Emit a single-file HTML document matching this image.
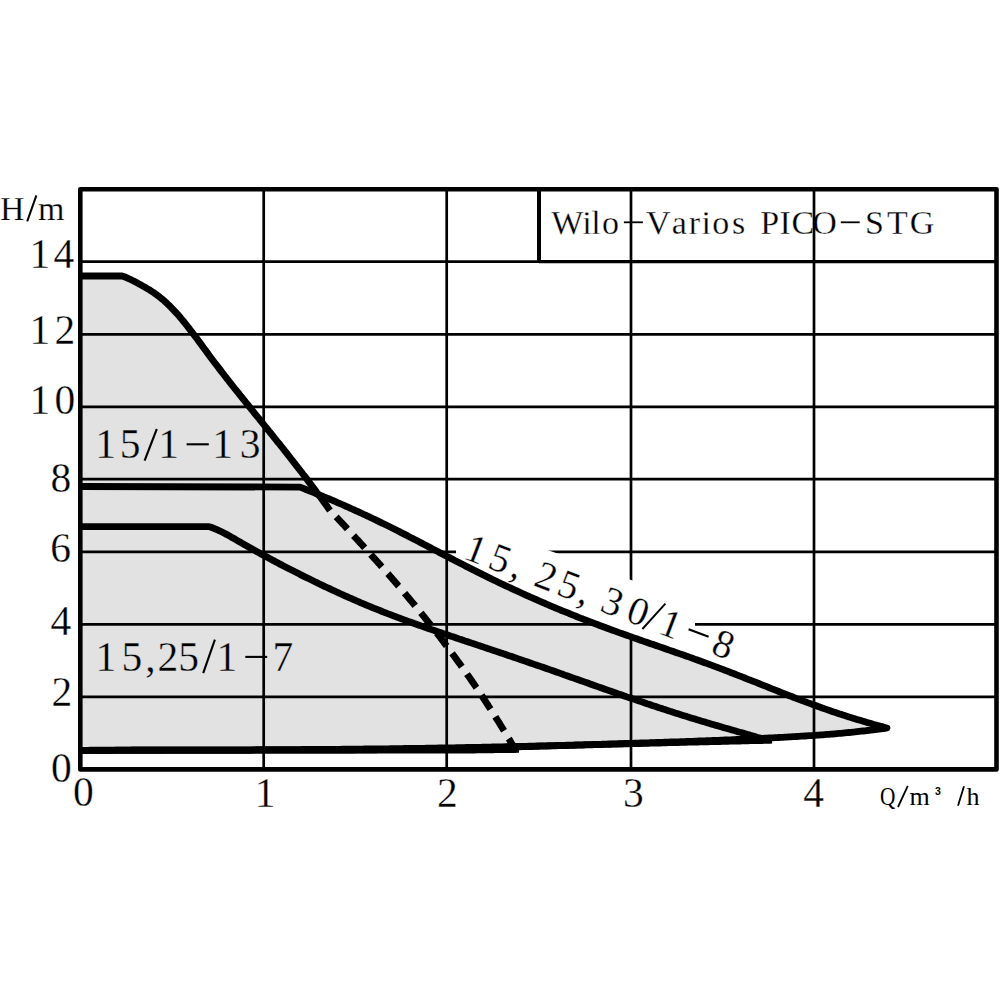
<!DOCTYPE html>
<html><head><meta charset="utf-8"><style>
html,body{margin:0;padding:0;background:#fff;width:1000px;height:1000px;overflow:hidden}
svg{display:block}
</style></head><body>
<svg width="1000" height="1000" viewBox="0 0 1000 1000">
<rect width="1000" height="1000" fill="#fff"/>
<path d="M82.0 276.0 L122.0 275.9 L123.5 276.4 L125.0 277.0 L126.5 277.6 L128.0 278.3 L129.5 279.0 L131.0 279.7 L132.6 280.5 L134.1 281.2 L135.6 282.0 L137.1 282.8 L138.6 283.7 L140.1 284.5 L141.6 285.3 L143.1 286.2 L144.6 287.0 L146.1 287.9 L147.6 288.8 L149.1 289.7 L150.6 290.7 L152.1 291.6 L153.7 292.6 L155.2 293.7 L156.7 294.8 L158.2 295.9 L159.7 297.1 L161.2 298.3 L162.7 299.5 L164.2 300.8 L165.7 302.2 L167.2 303.6 L168.7 305.1 L170.2 306.5 L171.7 308.1 L173.2 309.6 L174.8 311.3 L176.3 312.9 L177.8 314.6 L179.3 316.3 L180.8 318.1 L182.3 319.9 L183.8 321.7 L185.3 323.6 L186.8 325.5 L188.3 327.4 L189.8 329.4 L191.3 331.3 L192.8 333.3 L194.3 335.3 L195.9 337.3 L197.4 339.3 L198.9 341.4 L200.4 343.4 L201.9 345.4 L203.4 347.5 L204.9 349.5 L206.4 351.6 L207.9 353.6 L209.4 355.7 L210.9 357.7 L212.4 359.7 L213.9 361.7 L215.4 363.7 L217.0 365.7 L218.5 367.6 L220.0 369.6 L221.5 371.6 L223.0 373.5 L224.5 375.5 L226.0 377.4 L227.5 379.3 L229.0 381.3 L230.5 383.2 L232.0 385.1 L233.5 387.0 L235.0 388.9 L236.6 390.8 L238.1 392.7 L239.6 394.6 L241.1 396.5 L242.6 398.3 L244.1 400.2 L245.6 402.1 L247.1 404.0 L248.6 405.8 L250.1 407.7 L251.6 409.6 L253.1 411.4 L254.6 413.3 L256.1 415.2 L257.7 417.0 L259.2 418.9 L260.7 420.8 L262.2 422.6 L263.7 424.5 L265.2 426.4 L266.7 428.2 L268.2 430.1 L269.7 432.0 L271.2 433.8 L272.7 435.7 L274.2 437.6 L275.7 439.5 L277.2 441.4 L278.8 443.2 L280.3 445.1 L281.8 447.0 L283.3 448.9 L284.8 450.8 L286.3 452.7 L287.8 454.6 L289.3 456.5 L290.8 458.5 L292.3 460.4 L293.8 462.3 L295.3 464.2 L296.8 466.2 L298.3 468.1 L299.9 470.1 L301.4 472.0 L302.9 474.0 L304.4 475.9 L305.9 477.9 L307.4 479.9 L308.9 481.9 L310.4 483.9 L312.0 491.9 L314.0 492.7 L316.0 493.5 L318.0 494.3 L320.0 495.1 L322.0 496.0 L324.0 496.8 L326.0 497.6 L328.0 498.5 L330.1 499.3 L332.1 500.2 L334.1 501.0 L336.1 501.9 L338.1 502.8 L340.1 503.6 L342.1 504.5 L344.1 505.4 L346.1 506.3 L348.1 507.2 L350.1 508.1 L352.1 509.0 L354.1 509.9 L356.1 510.8 L358.1 511.7 L360.1 512.6 L362.1 513.5 L364.1 514.5 L366.1 515.4 L368.1 516.3 L370.1 517.3 L372.1 518.2 L374.1 519.2 L376.1 520.1 L378.1 521.1 L380.1 522.1 L382.1 523.1 L384.1 524.0 L386.1 525.0 L388.2 526.0 L390.2 527.0 L392.2 528.0 L394.2 529.0 L396.2 530.0 L398.2 531.0 L400.2 532.1 L402.2 533.1 L404.2 534.1 L406.2 535.1 L408.2 536.2 L410.2 537.2 L412.2 538.2 L414.2 539.3 L416.2 540.3 L418.2 541.3 L420.2 542.4 L422.2 543.4 L424.2 544.5 L426.2 545.5 L428.2 546.6 L430.2 547.6 L432.2 548.7 L434.2 549.7 L436.2 550.8 L438.2 551.8 L440.2 552.9 L442.2 553.9 L444.2 554.9 L446.2 556.0 L448.3 557.0 L450.3 558.1 L452.3 559.1 L454.3 560.2 L456.3 561.2 L458.3 562.2 L460.3 563.3 L462.3 564.3 L464.3 565.3 L466.3 566.4 L468.3 567.4 L470.3 568.4 L472.3 569.4 L474.3 570.4 L476.3 571.4 L478.3 572.4 L480.3 573.4 L482.3 574.4 L484.3 575.4 L486.3 576.4 L488.3 577.4 L490.3 578.4 L492.3 579.4 L494.3 580.3 L496.3 581.3 L498.3 582.3 L500.3 583.2 L502.3 584.2 L504.3 585.1 L506.4 586.1 L508.4 587.0 L510.4 587.9 L512.4 588.9 L514.4 589.8 L516.4 590.7 L518.4 591.6 L520.4 592.5 L522.4 593.5 L524.4 594.4 L526.4 595.3 L528.4 596.2 L530.4 597.1 L532.4 597.9 L534.4 598.8 L536.4 599.7 L538.4 600.6 L540.4 601.5 L542.4 602.3 L544.4 603.2 L546.4 604.1 L548.4 604.9 L550.4 605.8 L552.4 606.6 L554.4 607.5 L556.4 608.3 L558.4 609.1 L560.4 610.0 L562.4 610.8 L564.5 611.6 L566.5 612.4 L568.5 613.2 L570.5 614.1 L572.5 614.9 L574.5 615.7 L576.5 616.5 L578.5 617.3 L580.5 618.1 L582.5 618.8 L584.5 619.6 L586.5 620.4 L588.5 621.2 L590.5 622.0 L592.5 622.7 L594.5 623.5 L596.5 624.2 L598.5 625.0 L600.5 625.8 L602.5 626.5 L604.5 627.2 L606.5 628.0 L608.5 628.7 L610.5 629.5 L612.5 630.2 L614.5 630.9 L616.5 631.6 L618.5 632.4 L620.5 633.1 L622.5 633.8 L624.6 634.5 L626.6 635.2 L628.6 635.9 L630.6 636.6 L632.6 637.4 L634.6 638.1 L636.6 638.8 L638.6 639.5 L640.6 640.2 L642.6 640.9 L644.6 641.6 L646.6 642.3 L648.6 643.0 L650.6 643.7 L652.6 644.3 L654.6 645.0 L656.6 645.7 L658.6 646.4 L660.6 647.1 L662.6 647.8 L664.6 648.5 L666.6 649.2 L668.6 649.9 L670.6 650.6 L672.6 651.3 L674.6 652.0 L676.6 652.7 L678.6 653.4 L680.6 654.1 L682.7 654.8 L684.7 655.5 L686.7 656.2 L688.7 656.9 L690.7 657.6 L692.7 658.3 L694.7 659.1 L696.7 659.8 L698.7 660.5 L700.7 661.2 L702.7 662.0 L704.7 662.7 L706.7 663.4 L708.7 664.1 L710.7 664.9 L712.7 665.6 L714.7 666.4 L716.7 667.1 L718.7 667.9 L720.7 668.6 L722.7 669.4 L724.7 670.2 L726.7 670.9 L728.7 671.7 L730.7 672.5 L732.7 673.2 L734.7 674.0 L736.7 674.8 L738.7 675.6 L740.8 676.4 L742.8 677.2 L744.8 678.0 L746.8 678.8 L748.8 679.6 L750.8 680.3 L752.8 681.1 L754.8 681.9 L756.8 682.7 L758.8 683.5 L760.8 684.3 L762.8 685.1 L764.8 685.9 L766.8 686.7 L768.8 687.5 L770.8 688.3 L772.8 689.1 L774.8 689.9 L776.8 690.7 L778.8 691.5 L780.8 692.3 L782.8 693.1 L784.8 693.9 L786.8 694.7 L788.8 695.5 L790.8 696.2 L792.8 697.0 L794.8 697.8 L796.8 698.6 L798.8 699.3 L800.9 700.1 L802.9 700.9 L804.9 701.6 L806.9 702.4 L808.9 703.1 L810.9 703.8 L812.9 704.6 L814.9 705.3 L816.9 706.0 L818.9 706.8 L820.9 707.5 L822.9 708.2 L824.9 708.9 L826.9 709.6 L828.9 710.3 L830.9 711.0 L832.9 711.7 L834.9 712.3 L836.9 713.0 L838.9 713.7 L840.9 714.3 L842.9 715.0 L844.9 715.6 L846.9 716.3 L848.9 716.9 L850.9 717.6 L852.9 718.2 L854.9 718.8 L856.9 719.4 L859.0 720.0 L861.0 720.6 L863.0 721.2 L865.0 721.8 L867.0 722.4 L869.0 723.0 L871.0 723.6 L873.0 724.2 L875.0 724.7 L877.0 725.3 L879.0 725.8 L881.0 726.4 L883.0 726.9 L885.0 727.5 L887.0 728.0 L887.0 728.2 L885.0 728.4 L883.0 728.7 L881.0 728.9 L879.0 729.1 L877.0 729.4 L875.0 729.6 L873.0 729.8 L871.0 730.1 L869.0 730.3 L867.0 730.5 L865.0 730.8 L863.0 731.0 L861.0 731.2 L859.0 731.4 L857.0 731.6 L855.0 731.9 L853.0 732.1 L851.0 732.3 L849.0 732.5 L847.0 732.7 L844.9 732.9 L842.9 733.1 L840.9 733.3 L838.9 733.4 L836.9 733.6 L834.9 733.8 L832.9 734.0 L830.9 734.1 L828.9 734.3 L826.9 734.4 L824.9 734.6 L822.9 734.8 L820.9 734.9 L818.9 735.1 L816.9 735.2 L814.9 735.3 L812.9 735.5 L810.9 735.6 L808.9 735.7 L806.9 735.9 L804.9 736.0 L802.9 736.1 L800.9 736.2 L798.9 736.4 L796.9 736.5 L794.9 736.6 L792.9 736.7 L790.9 736.8 L788.9 736.9 L786.9 737.1 L784.9 737.2 L782.9 737.3 L780.9 737.4 L778.9 737.5 L776.9 737.6 L774.9 737.7 L772.9 737.8 L770.9 737.9 L768.9 738.0 L766.9 738.1 L764.8 738.2 L762.8 738.3 L760.8 738.4 L758.8 738.5 L756.8 738.6 L754.8 738.7 L752.8 738.8 L750.8 738.9 L748.8 739.0 L746.8 739.1 L744.8 739.1 L742.8 739.2 L740.8 739.3 L738.8 739.4 L736.8 739.5 L734.8 739.6 L732.8 739.7 L730.8 739.8 L728.8 739.8 L726.8 739.9 L724.8 740.0 L722.8 740.1 L720.8 740.2 L718.8 740.3 L716.8 740.3 L714.8 740.4 L712.8 740.5 L710.8 740.6 L708.8 740.7 L706.8 740.7 L704.8 740.8 L702.8 740.9 L700.8 741.0 L698.8 741.0 L696.8 741.1 L694.8 741.2 L692.8 741.3 L690.8 741.3 L688.8 741.4 L686.8 741.5 L684.7 741.6 L682.7 741.6 L680.7 741.7 L678.7 741.8 L676.7 741.8 L674.7 741.9 L672.7 742.0 L670.7 742.0 L668.7 742.1 L666.7 742.2 L664.7 742.2 L662.7 742.3 L660.7 742.4 L658.7 742.4 L656.7 742.5 L654.7 742.6 L652.7 742.6 L650.7 742.7 L648.7 742.8 L646.7 742.8 L644.7 742.9 L642.7 743.0 L640.7 743.0 L638.7 743.1 L636.7 743.2 L634.7 743.2 L632.7 743.3 L630.7 743.4 L628.7 743.4 L626.7 743.5 L624.7 743.5 L622.7 743.6 L620.7 743.7 L618.7 743.7 L616.7 743.8 L614.7 743.9 L612.7 743.9 L610.7 744.0 L608.7 744.0 L606.7 744.1 L604.6 744.2 L602.6 744.2 L600.6 744.3 L598.6 744.3 L596.6 744.4 L594.6 744.4 L592.6 744.5 L590.6 744.6 L588.6 744.6 L586.6 744.7 L584.6 744.7 L582.6 744.8 L580.6 744.8 L578.6 744.9 L576.6 745.0 L574.6 745.0 L572.6 745.1 L570.6 745.1 L568.6 745.2 L566.6 745.2 L564.6 745.3 L562.6 745.3 L560.6 745.4 L558.6 745.4 L556.6 745.5 L554.6 745.6 L552.6 745.6 L550.6 745.7 L548.6 745.7 L546.6 745.8 L544.6 745.8 L542.6 745.9 L540.6 745.9 L538.6 746.0 L536.6 746.0 L534.6 746.1 L532.6 746.1 L530.6 746.2 L528.6 746.2 L526.6 746.3 L524.5 746.3 L522.5 746.3 L520.5 746.4 L518.5 746.4 L516.5 746.5 L514.5 746.5 L512.5 746.6 L510.5 746.6 L508.5 746.7 L506.5 746.7 L504.5 746.8 L502.5 746.8 L500.5 746.8 L498.5 746.9 L496.5 746.9 L494.5 747.0 L492.5 747.0 L490.5 747.1 L488.5 747.1 L486.5 747.1 L484.5 747.2 L482.5 747.2 L480.5 747.3 L478.5 747.3 L476.5 747.3 L474.5 747.4 L472.5 747.4 L470.5 747.5 L468.5 747.5 L466.5 747.5 L464.5 747.6 L462.5 747.6 L460.5 747.6 L458.5 747.7 L456.5 747.7 L454.5 747.8 L452.5 747.8 L450.5 747.8 L448.5 747.9 L446.5 747.9 L444.5 747.9 L442.4 748.0 L440.4 748.0 L438.4 748.0 L436.4 748.1 L434.4 748.1 L432.4 748.1 L430.4 748.2 L428.4 748.2 L426.4 748.2 L424.4 748.3 L422.4 748.3 L420.4 748.3 L418.4 748.3 L416.4 748.4 L414.4 748.4 L412.4 748.4 L410.4 748.5 L408.4 748.5 L406.4 748.5 L404.4 748.5 L402.4 748.6 L400.4 748.6 L398.4 748.6 L396.4 748.7 L394.4 748.7 L392.4 748.7 L390.4 748.7 L388.4 748.8 L386.4 748.8 L384.4 748.8 L382.4 748.8 L380.4 748.9 L378.4 748.9 L376.4 748.9 L374.4 748.9 L372.4 748.9 L370.4 749.0 L368.4 749.0 L366.4 749.0 L364.4 749.0 L362.3 749.1 L360.3 749.1 L358.3 749.1 L356.3 749.1 L354.3 749.1 L352.3 749.2 L350.3 749.2 L348.3 749.2 L346.3 749.2 L344.3 749.2 L342.3 749.2 L340.3 749.3 L338.3 749.3 L336.3 749.3 L334.3 749.3 L332.3 749.3 L330.3 749.3 L328.3 749.4 L326.3 749.4 L324.3 749.4 L322.3 749.4 L320.3 749.4 L318.3 749.4 L316.3 749.5 L314.3 749.5 L312.3 749.5 L310.3 749.5 L308.3 749.5 L306.3 749.5 L304.3 749.5 L302.3 749.5 L300.3 749.6 L298.3 749.6 L296.3 749.6 L294.3 749.6 L292.3 749.6 L290.3 749.6 L288.3 749.6 L286.3 749.6 L284.3 749.6 L282.2 749.6 L280.2 749.7 L278.2 749.7 L276.2 749.7 L274.2 749.7 L272.2 749.7 L270.2 749.7 L268.2 749.7 L266.2 749.7 L264.2 749.7 L262.2 749.7 L260.2 749.7 L258.2 749.7 L256.2 749.7 L254.2 749.8 L252.2 749.8 L250.2 749.8 L248.2 749.8 L246.2 749.8 L244.2 749.8 L242.2 749.8 L240.2 749.8 L238.2 749.8 L236.2 749.8 L234.2 749.8 L232.2 749.8 L230.2 749.8 L228.2 749.8 L226.2 749.8 L224.2 749.8 L222.2 749.8 L220.2 749.8 L218.2 749.8 L216.2 749.8 L214.2 749.9 L212.2 749.9 L210.2 749.9 L208.2 749.9 L206.2 749.9 L204.2 749.9 L202.1 749.9 L200.1 749.9 L198.1 749.9 L196.1 749.9 L194.1 749.9 L192.1 749.9 L190.1 749.9 L188.1 749.9 L186.1 749.9 L184.1 749.9 L182.1 749.9 L180.1 749.9 L178.1 749.9 L176.1 749.9 L174.1 749.9 L172.1 749.9 L170.1 749.9 L168.1 749.9 L166.1 749.9 L164.1 750.0 L162.1 750.0 L160.1 750.0 L158.1 750.0 L156.1 750.0 L154.1 750.0 L152.1 750.0 L150.1 750.0 L148.1 750.0 L146.1 750.0 L144.1 750.0 L142.1 750.0 L140.1 750.0 L138.1 750.0 L136.1 750.0 L134.1 750.0 L132.1 750.0 L130.1 750.1 L128.1 750.1 L126.1 750.1 L124.1 750.1 L122.0 750.1 L120.0 750.1 L118.0 750.1 L116.0 750.1 L114.0 750.1 L112.0 750.1 L110.0 750.1 L108.0 750.1 L106.0 750.2 L104.0 750.2 L102.0 750.2 L100.0 750.2 L98.0 750.2 L96.0 750.2 L94.0 750.2 L92.0 750.2 L90.0 750.2 L88.0 750.3 L86.0 750.3 L84.0 750.3 L82.0 750.3 Z" fill="#e2e2e2"/>
<text x="29.45 53.44" y="267.7" font-family="Liberation Serif" font-size="41.50" stroke="#fff" stroke-width="0.30" >14</text>
<text x="29.45 54.46" y="343.8" font-family="Liberation Serif" font-size="41.50" stroke="#fff" stroke-width="0.30" >12</text>
<text x="29.45 54.53" y="414.2" font-family="Liberation Serif" font-size="41.50" stroke="#fff" stroke-width="0.30" >10</text>
<text x="50.62" y="491.6" font-family="Liberation Serif" font-size="41.50" stroke="#fff" stroke-width="0.30" >8</text>
<text x="50.23" y="562.3" font-family="Liberation Serif" font-size="41.50" stroke="#fff" stroke-width="0.30" >6</text>
<text x="50.42" y="634.5" font-family="Liberation Serif" font-size="41.50" stroke="#fff" stroke-width="0.30" >4</text>
<text x="51.48" y="706.0" font-family="Liberation Serif" font-size="41.50" stroke="#fff" stroke-width="0.30" >2</text>
<text x="51.12" y="782.4" font-family="Liberation Serif" font-size="41.50" stroke="#fff" stroke-width="0.30" >0</text>
<text x="72.88" y="806.1" font-family="Liberation Serif" font-size="41.50" stroke="#fff" stroke-width="0.30" >0</text>
<text x="254.75" y="806.8" font-family="Liberation Serif" font-size="41.50" stroke="#fff" stroke-width="0.30" >1</text>
<text x="437.01" y="806.8" font-family="Liberation Serif" font-size="41.50" stroke="#fff" stroke-width="0.30" >2</text>
<text x="622.99" y="806.5" font-family="Liberation Serif" font-size="41.50" stroke="#fff" stroke-width="0.30" >3</text>
<text x="803.14" y="806.8" font-family="Liberation Serif" font-size="41.50" stroke="#fff" stroke-width="0.30" >4</text>
<text x="-0.02 37.94" y="220.1" font-family="Liberation Serif" font-size="34.00" stroke="#fff" stroke-width="0.25" >Hm</text>
<text x="909.57" y="805.1" font-family="Liberation Serif" font-size="26.00" >m</text>
<text transform="translate(887.85 805.1) scale(0.82 1)" x="-9.70" y="0" font-family="Liberation Serif" font-size="26">Q</text>
<text x="935.10" y="794.7" font-family="Liberation Sans" font-size="10.50" font-weight="bold">3</text>
<text x="966.59" y="805.1" font-family="Liberation Serif" font-size="26.00" >h</text>
<text x="551.22 582.29 591.13 601.95 646.02 671.69 688.75 701.54 712.20 732.00 760.19 779.52 791.40 812.27 864.91 887.09 909.81" y="233.7" font-family="Liberation Serif" font-size="34.00" stroke="#fff" stroke-width="0.30" >WiloVariosPICOSTG</text>
<text x="95.25 119.73 158.25 212.25 239.64" y="458.2" font-family="Liberation Serif" font-size="41.50" stroke="#e2e2e2" stroke-width="0.30" >15113</text>
<text x="95.50 121.58 145.23 157.46 178.23 216.55 272.45" y="670.7" font-family="Liberation Serif" font-size="41.50" stroke="#e2e2e2" stroke-width="0.30" >15,2517</text>
<line x1="623.90" y1="222.30" x2="642.90" y2="222.30" stroke="#000" stroke-width="1.80"/>
<line x1="840.80" y1="222.30" x2="859.70" y2="222.30" stroke="#000" stroke-width="1.80"/>
<line x1="186.60" y1="444.30" x2="208.80" y2="444.30" stroke="#000" stroke-width="2.10"/>
<line x1="245.30" y1="656.90" x2="267.20" y2="656.90" stroke="#000" stroke-width="2.10"/>
<line x1="144.60" y1="460.60" x2="156.80" y2="429.00" stroke="#000" stroke-width="2.10"/>
<line x1="203.20" y1="673.20" x2="214.90" y2="639.60" stroke="#000" stroke-width="2.10"/>
<line x1="27.20" y1="221.40" x2="36.40" y2="195.30" stroke="#000" stroke-width="2.00"/>
<line x1="898.00" y1="807.00" x2="907.80" y2="785.80" stroke="#000" stroke-width="1.80"/>
<line x1="958.00" y1="805.80" x2="964.00" y2="786.20" stroke="#000" stroke-width="1.80"/>
<line x1="263.7" y1="189.2" x2="263.7" y2="769.4" stroke="#000" stroke-width="2.7"/>
<line x1="446.7" y1="189.2" x2="446.7" y2="769.4" stroke="#000" stroke-width="2.7"/>
<line x1="631.0" y1="189.2" x2="631.0" y2="769.4" stroke="#000" stroke-width="2.7"/>
<line x1="814.0" y1="189.2" x2="814.0" y2="769.4" stroke="#000" stroke-width="2.7"/>
<line x1="80.3" y1="696.9" x2="996.5" y2="696.9" stroke="#000" stroke-width="2.7"/>
<line x1="80.3" y1="624.4" x2="996.5" y2="624.4" stroke="#000" stroke-width="2.7"/>
<line x1="80.3" y1="551.9" x2="996.5" y2="551.9" stroke="#000" stroke-width="2.7"/>
<line x1="80.3" y1="479.2" x2="996.5" y2="479.2" stroke="#000" stroke-width="2.7"/>
<line x1="80.3" y1="406.9" x2="996.5" y2="406.9" stroke="#000" stroke-width="2.7"/>
<line x1="80.3" y1="334.4" x2="996.5" y2="334.4" stroke="#000" stroke-width="2.7"/>
<line x1="80.3" y1="261.7" x2="996.5" y2="261.7" stroke="#000" stroke-width="2.7"/>
<line x1="539" y1="189.2" x2="539" y2="262.5" stroke="#000" stroke-width="4"/>
<line x1="539" y1="261.6" x2="996.5" y2="261.6" stroke="#000" stroke-width="3.2"/>
<rect x="80.3" y="189.2" width="916.2" height="580.2" fill="none" stroke="#000" stroke-width="4.6" stroke-linejoin="round"/>
<defs><clipPath id="abv"><path d="M300 190 L995 190 L995 728 L887.0 728.0 L885.0 727.5 L883.0 726.9 L881.0 726.4 L879.0 725.8 L877.0 725.3 L875.0 724.7 L873.0 724.2 L871.0 723.6 L869.0 723.0 L867.0 722.4 L865.0 721.8 L863.0 721.2 L861.0 720.6 L859.0 720.0 L856.9 719.4 L854.9 718.8 L852.9 718.2 L850.9 717.6 L848.9 716.9 L846.9 716.3 L844.9 715.6 L842.9 715.0 L840.9 714.3 L838.9 713.7 L836.9 713.0 L834.9 712.3 L832.9 711.7 L830.9 711.0 L828.9 710.3 L826.9 709.6 L824.9 708.9 L822.9 708.2 L820.9 707.5 L818.9 706.8 L816.9 706.0 L814.9 705.3 L812.9 704.6 L810.9 703.8 L808.9 703.1 L806.9 702.4 L804.9 701.6 L802.9 700.9 L800.9 700.1 L798.8 699.3 L796.8 698.6 L794.8 697.8 L792.8 697.0 L790.8 696.2 L788.8 695.5 L786.8 694.7 L784.8 693.9 L782.8 693.1 L780.8 692.3 L778.8 691.5 L776.8 690.7 L774.8 689.9 L772.8 689.1 L770.8 688.3 L768.8 687.5 L766.8 686.7 L764.8 685.9 L762.8 685.1 L760.8 684.3 L758.8 683.5 L756.8 682.7 L754.8 681.9 L752.8 681.1 L750.8 680.3 L748.8 679.6 L746.8 678.8 L744.8 678.0 L742.8 677.2 L740.8 676.4 L738.7 675.6 L736.7 674.8 L734.7 674.0 L732.7 673.2 L730.7 672.5 L728.7 671.7 L726.7 670.9 L724.7 670.2 L722.7 669.4 L720.7 668.6 L718.7 667.9 L716.7 667.1 L714.7 666.4 L712.7 665.6 L710.7 664.9 L708.7 664.1 L706.7 663.4 L704.7 662.7 L702.7 662.0 L700.7 661.2 L698.7 660.5 L696.7 659.8 L694.7 659.1 L692.7 658.3 L690.7 657.6 L688.7 656.9 L686.7 656.2 L684.7 655.5 L682.7 654.8 L680.6 654.1 L678.6 653.4 L676.6 652.7 L674.6 652.0 L672.6 651.3 L670.6 650.6 L668.6 649.9 L666.6 649.2 L664.6 648.5 L662.6 647.8 L660.6 647.1 L658.6 646.4 L656.6 645.7 L654.6 645.0 L652.6 644.3 L650.6 643.7 L648.6 643.0 L646.6 642.3 L644.6 641.6 L642.6 640.9 L640.6 640.2 L638.6 639.5 L636.6 638.8 L634.6 638.1 L632.6 637.4 L630.6 636.6 L628.6 635.9 L626.6 635.2 L624.6 634.5 L622.5 633.8 L620.5 633.1 L618.5 632.4 L616.5 631.6 L614.5 630.9 L612.5 630.2 L610.5 629.5 L608.5 628.7 L606.5 628.0 L604.5 627.2 L602.5 626.5 L600.5 625.8 L598.5 625.0 L596.5 624.2 L594.5 623.5 L592.5 622.7 L590.5 622.0 L588.5 621.2 L586.5 620.4 L584.5 619.6 L582.5 618.8 L580.5 618.1 L578.5 617.3 L576.5 616.5 L574.5 615.7 L572.5 614.9 L570.5 614.1 L568.5 613.2 L566.5 612.4 L564.5 611.6 L562.4 610.8 L560.4 610.0 L558.4 609.1 L556.4 608.3 L554.4 607.5 L552.4 606.6 L550.4 605.8 L548.4 604.9 L546.4 604.1 L544.4 603.2 L542.4 602.3 L540.4 601.5 L538.4 600.6 L536.4 599.7 L534.4 598.8 L532.4 597.9 L530.4 597.1 L528.4 596.2 L526.4 595.3 L524.4 594.4 L522.4 593.5 L520.4 592.5 L518.4 591.6 L516.4 590.7 L514.4 589.8 L512.4 588.9 L510.4 587.9 L508.4 587.0 L506.4 586.1 L504.3 585.1 L502.3 584.2 L500.3 583.2 L498.3 582.3 L496.3 581.3 L494.3 580.3 L492.3 579.4 L490.3 578.4 L488.3 577.4 L486.3 576.4 L484.3 575.4 L482.3 574.4 L480.3 573.4 L478.3 572.4 L476.3 571.4 L474.3 570.4 L472.3 569.4 L470.3 568.4 L468.3 567.4 L466.3 566.4 L464.3 565.3 L462.3 564.3 L460.3 563.3 L458.3 562.2 L456.3 561.2 L454.3 560.2 L452.3 559.1 L450.3 558.1 L448.3 557.0 L446.2 556.0 L444.2 554.9 L442.2 553.9 L440.2 552.9 L438.2 551.8 L436.2 550.8 L434.2 549.7 L432.2 548.7 L430.2 547.6 L428.2 546.6 L426.2 545.5 L424.2 544.5 L422.2 543.4 L420.2 542.4 L418.2 541.3 L416.2 540.3 L414.2 539.3 L412.2 538.2 L410.2 537.2 L408.2 536.2 L406.2 535.1 L404.2 534.1 L402.2 533.1 L400.2 532.1 L398.2 531.0 L396.2 530.0 L394.2 529.0 L392.2 528.0 L390.2 527.0 L388.2 526.0 L386.1 525.0 L384.1 524.0 L382.1 523.1 L380.1 522.1 L378.1 521.1 L376.1 520.1 L374.1 519.2 L372.1 518.2 L370.1 517.3 L368.1 516.3 L366.1 515.4 L364.1 514.5 L362.1 513.5 L360.1 512.6 L358.1 511.7 L356.1 510.8 L354.1 509.9 L352.1 509.0 L350.1 508.1 L348.1 507.2 L346.1 506.3 L344.1 505.4 L342.1 504.5 L340.1 503.6 L338.1 502.8 L336.1 501.9 L334.1 501.0 L332.1 500.2 L330.1 499.3 L328.0 498.5 L326.0 497.6 L324.0 496.8 L322.0 496.0 L320.0 495.1 L318.0 494.3 L316.0 493.5 L314.0 492.7 L312.0 491.9 L310.0 491.1 L308.0 490.3 L306.0 489.5 L304.0 488.7 L302.0 487.9 L300.0 487.1 Z"/></clipPath></defs>
<g clip-path="url(#abv)"><path d="M456 517.2 L695 603 L695 700 L456 700 Z" fill="#fff"/></g>
<g transform="translate(471.95 561.86) rotate(21.00)">
<text x="-10.56 15.32 39.50 64.52 89.02 111.80 135.62 163.10 197.94 254.50" y="0.0" font-family="Liberation Serif" font-size="40.00" stroke="#fff" stroke-width="0.30" >15,25,3018</text>
</g>
<line x1="688.60" y1="629.20" x2="708.60" y2="636.80" stroke="#000" stroke-width="2.10"/>
<line x1="642.40" y1="629.00" x2="665.40" y2="603.60" stroke="#000" stroke-width="1.90"/>
<path d="M82.0 750.4 L84.0 750.4 L86.0 750.4 L88.0 750.4 L90.0 750.4 L92.0 750.4 L94.0 750.4 L96.0 750.4 L98.0 750.4 L100.0 750.4 L102.0 750.4 L104.1 750.4 L106.1 750.4 L108.1 750.4 L110.1 750.4 L112.1 750.4 L114.1 750.4 L116.1 750.4 L118.1 750.4 L120.1 750.4 L122.1 750.4 L124.1 750.4 L126.1 750.4 L128.1 750.4 L130.1 750.4 L132.1 750.4 L134.1 750.4 L136.1 750.4 L138.1 750.4 L140.1 750.4 L142.1 750.4 L144.1 750.3 L146.1 750.3 L148.2 750.3 L150.2 750.3 L152.2 750.3 L154.2 750.3 L156.2 750.3 L158.2 750.3 L160.2 750.3 L162.2 750.3 L164.2 750.3 L166.2 750.3 L168.2 750.3 L170.2 750.3 L172.2 750.3 L174.2 750.3 L176.2 750.3 L178.2 750.3 L180.2 750.3 L182.2 750.3 L184.2 750.3 L186.2 750.3 L188.2 750.3 L190.2 750.3 L192.3 750.3 L194.3 750.3 L196.3 750.3 L198.3 750.3 L200.3 750.3 L202.3 750.3 L204.3 750.3 L206.3 750.3 L208.3 750.3 L210.3 750.3 L212.3 750.3 L214.3 750.3 L216.3 750.3 L218.3 750.3 L220.3 750.3 L222.3 750.3 L224.3 750.3 L226.3 750.3 L228.3 750.3 L230.3 750.3 L232.3 750.3 L234.3 750.3 L236.4 750.3 L238.4 750.3 L240.4 750.3 L242.4 750.3 L244.4 750.3 L246.4 750.3 L248.4 750.3 L250.4 750.3 L252.4 750.2 L254.4 750.2 L256.4 750.2 L258.4 750.2 L260.4 750.2 L262.4 750.2 L264.4 750.2 L266.4 750.2 L268.4 750.2 L270.4 750.2 L272.4 750.2 L274.4 750.2 L276.4 750.2 L278.4 750.2 L280.5 750.2 L282.5 750.2 L284.5 750.2 L286.5 750.2 L288.5 750.2 L290.5 750.2 L292.5 750.2 L294.5 750.2 L296.5 750.2 L298.5 750.2 L300.5 750.2 L302.5 750.2 L304.5 750.2 L306.5 750.2 L308.5 750.2 L310.5 750.2 L312.5 750.2 L314.5 750.2 L316.5 750.2 L318.5 750.2 L320.5 750.2 L322.6 750.2 L324.6 750.2 L326.6 750.2 L328.6 750.2 L330.6 750.2 L332.6 750.2 L334.6 750.2 L336.6 750.2 L338.6 750.2 L340.6 750.2 L342.6 750.2 L344.6 750.2 L346.6 750.2 L348.6 750.2 L350.6 750.2 L352.6 750.2 L354.6 750.2 L356.6 750.2 L358.6 750.2 L360.6 750.1 L362.6 750.1 L364.6 750.1 L366.7 750.1 L368.7 750.1 L370.7 750.1 L372.7 750.1 L374.7 750.1 L376.7 750.1 L378.7 750.1 L380.7 750.1 L382.7 750.1 L384.7 750.1 L386.7 750.1 L388.7 750.1 L390.7 750.1 L392.7 750.1 L394.7 750.1 L396.7 750.1 L398.7 750.1 L400.7 750.1 L402.7 750.1 L404.7 750.1 L406.7 750.1 L408.7 750.1 L410.8 750.1 L412.8 750.1 L414.8 750.1 L416.8 750.1 L418.8 750.1 L420.8 750.1 L422.8 750.1 L424.8 750.1 L426.8 750.1 L428.8 750.1 L430.8 750.1 L432.8 750.1 L434.8 750.1 L436.8 750.1 L438.8 750.1 L440.8 750.1 L442.8 750.1 L444.8 750.0 L446.8 750.0 L448.8 750.0 L450.8 750.0 L452.8 750.0 L454.9 750.0 L456.9 750.0 L458.9 750.0 L460.9 750.0 L462.9 750.0 L464.9 750.0 L466.9 750.0 L468.9 750.0 L470.9 750.0 L472.9 750.0 L474.9 750.0 L476.9 749.9 L478.9 749.9 L480.9 749.9 L482.9 749.9 L484.9 749.9 L486.9 749.8 L488.9 749.8 L490.9 749.8 L492.9 749.8 L494.9 749.7 L496.9 749.7 L499.0 749.7 L501.0 749.7 L503.0 749.6 L505.0 749.6 L507.0 749.6 L509.0 749.5 L511.0 749.5 L513.0 749.5 L515.0 749.5 L517.0 749.4 L519.0 749.4" fill="none" stroke="#000" stroke-width="6.8" stroke-linejoin="round"/>
<path d="M82.0 750.4 L84.0 750.4 L86.0 750.4 L88.0 750.4 L90.0 750.4 L92.0 750.4 L94.0 750.3 L96.0 750.3 L98.0 750.3 L100.0 750.3 L102.0 750.3 L104.0 750.3 L106.0 750.3 L108.0 750.3 L110.0 750.3 L112.0 750.3 L114.0 750.3 L116.0 750.2 L118.0 750.2 L120.0 750.2 L122.0 750.2 L124.0 750.2 L126.0 750.2 L128.0 750.2 L130.0 750.2 L132.0 750.2 L134.0 750.2 L136.0 750.2 L138.0 750.2 L140.0 750.2 L142.0 750.2 L144.0 750.2 L146.0 750.2 L148.0 750.2 L150.0 750.2 L152.0 750.2 L154.0 750.2 L156.0 750.2 L158.0 750.2 L160.0 750.2 L162.0 750.2 L164.0 750.2 L166.0 750.2 L168.0 750.2 L170.0 750.2 L172.0 750.2 L174.0 750.2 L176.0 750.2 L178.0 750.2 L180.0 750.2 L182.0 750.2 L184.0 750.2 L186.0 750.2 L188.0 750.2 L190.0 750.2 L192.0 750.2 L194.0 750.2 L196.0 750.2 L198.0 750.2 L200.0 750.2 L202.0 750.2 L204.0 750.2 L206.0 750.2 L208.0 750.2 L210.0 750.2 L212.0 750.2 L214.0 750.2 L216.0 750.2 L218.0 750.2 L220.0 750.2 L222.0 750.2 L224.0 750.2 L226.0 750.2 L228.0 750.2 L230.0 750.2 L232.0 750.2 L234.0 750.2 L236.0 750.2 L238.0 750.2 L240.0 750.2 L242.0 750.2 L244.0 750.2 L246.0 750.2 L248.0 750.2 L250.0 750.2 L252.0 750.2 L254.0 750.2 L256.0 750.2 L258.0 750.2 L260.0 750.2 L262.0 750.2 L264.0 750.2 L266.0 750.2 L268.0 750.2 L270.0 750.2 L272.0 750.2 L274.0 750.2 L276.0 750.2 L278.0 750.2 L280.0 750.2 L282.0 750.2 L284.0 750.2 L286.0 750.2 L288.0 750.2 L290.0 750.2 L292.0 750.2 L294.0 750.2 L296.0 750.2 L298.0 750.2 L300.0 750.2 L302.0 750.2 L304.0 750.2 L306.0 750.2 L308.0 750.2 L310.0 750.2 L312.0 750.2 L314.0 750.2 L316.0 750.2 L318.0 750.2 L320.0 750.2 L322.0 750.1 L324.0 750.1 L326.0 750.1 L328.0 750.1 L330.0 750.1 L332.0 750.1 L334.0 750.1 L336.0 750.1 L338.0 750.1 L340.0 750.1 L342.0 750.0 L344.0 750.0 L346.0 750.0 L348.0 750.0 L350.0 750.0 L352.0 750.0 L354.0 750.0 L356.0 749.9 L358.0 749.9 L360.0 749.9 L362.0 749.9 L364.0 749.9 L366.0 749.9 L368.0 749.8 L370.0 749.8 L372.0 749.8 L374.0 749.8 L376.0 749.8 L378.0 749.7 L380.0 749.7 L382.0 749.7 L384.0 749.7 L386.0 749.6 L388.0 749.6 L390.0 749.6 L392.0 749.6 L394.0 749.5 L396.0 749.5 L398.0 749.5 L400.0 749.5 L402.0 749.4 L404.0 749.4 L406.0 749.4 L408.0 749.3 L410.0 749.3 L412.0 749.3 L414.0 749.2 L416.0 749.2 L418.0 749.2 L420.0 749.1 L422.0 749.1 L424.0 749.1 L426.0 749.0 L428.0 749.0 L430.0 749.0 L432.0 748.9 L434.0 748.9 L436.0 748.8 L438.0 748.8 L440.0 748.8 L442.0 748.7 L444.0 748.7 L446.0 748.6 L448.0 748.6 L450.0 748.5 L452.0 748.5 L454.0 748.5 L456.0 748.4 L458.0 748.4 L460.0 748.3 L462.0 748.3 L464.0 748.2 L466.0 748.2 L468.0 748.1 L470.0 748.1 L472.0 748.0 L474.0 748.0 L476.0 747.9 L478.0 747.9 L480.0 747.8 L482.0 747.8 L484.0 747.7 L486.0 747.7 L488.0 747.6 L490.0 747.6 L492.0 747.5 L494.0 747.5 L496.0 747.4 L498.0 747.4 L500.0 747.3 L502.0 747.3 L504.0 747.2 L506.0 747.2 L508.0 747.1 L510.0 747.1 L512.0 747.0 L514.0 747.0 L516.0 746.9 L518.0 746.9 L520.0 746.8 L522.0 746.7 L524.0 746.7 L526.0 746.6 L528.0 746.6 L530.0 746.5 L532.0 746.5 L534.0 746.4 L536.0 746.4 L538.0 746.3 L540.0 746.2 L542.0 746.2 L544.0 746.1 L546.0 746.1 L548.0 746.0 L550.0 746.0 L552.0 745.9 L554.0 745.8 L556.0 745.8 L558.0 745.7 L560.0 745.7 L562.0 745.6 L564.0 745.6 L566.0 745.5 L568.0 745.5 L570.0 745.4 L572.0 745.3 L574.0 745.3 L576.0 745.2 L578.0 745.2 L580.0 745.1 L582.0 745.1 L584.0 745.0 L586.0 744.9 L588.0 744.9 L590.0 744.8 L592.0 744.8 L594.0 744.7 L596.0 744.7 L598.0 744.6 L600.0 744.6 L602.0 744.5 L604.0 744.4 L606.0 744.4 L608.0 744.3 L610.0 744.3 L612.0 744.2 L614.0 744.2 L616.0 744.1 L618.0 744.1 L620.0 744.0 L622.0 744.0 L624.0 743.9 L626.0 743.8 L628.0 743.8 L630.0 743.7 L632.0 743.7 L634.0 743.6 L636.0 743.6 L638.0 743.5 L640.0 743.5 L642.0 743.4 L644.0 743.4 L646.0 743.3 L648.0 743.3 L650.0 743.2 L652.0 743.2 L654.0 743.1 L656.0 743.1 L658.0 743.0 L660.0 743.0 L662.0 742.9 L664.0 742.9 L666.0 742.8 L668.0 742.7 L670.0 742.7 L672.0 742.6 L674.0 742.6 L676.0 742.5 L678.0 742.5 L680.0 742.4 L682.0 742.4 L684.0 742.3 L686.0 742.3 L688.0 742.2 L690.0 742.2 L692.0 742.1 L694.0 742.1 L696.0 742.0 L698.0 742.0 L700.0 741.9 L702.0 741.9 L704.0 741.8 L706.0 741.8 L708.0 741.8 L710.0 741.7 L712.0 741.7 L714.0 741.6 L716.0 741.6 L718.0 741.5 L720.0 741.5 L722.0 741.4 L724.0 741.4 L726.0 741.3 L728.0 741.3 L730.0 741.2 L732.0 741.2 L734.0 741.1 L736.0 741.1 L738.0 741.0 L740.0 741.0 L742.0 740.9 L744.0 740.9 L746.0 740.8 L748.0 740.8 L750.0 740.7 L752.0 740.7 L754.0 740.6 L756.0 740.6 L758.0 740.6 L760.0 740.5 L762.0 740.5 L764.0 740.4 L766.0 740.4 L768.0 740.3 L770.0 740.3 L772.0 740.2" fill="none" stroke="#000" stroke-width="6.8" stroke-linejoin="round"/>
<path d="M82.0 276.0 L122.0 275.9 L123.5 276.4 L125.0 277.0 L126.5 277.6 L128.0 278.3 L129.5 279.0 L131.0 279.7 L132.6 280.5 L134.1 281.2 L135.6 282.0 L137.1 282.8 L138.6 283.7 L140.1 284.5 L141.6 285.3 L143.1 286.2 L144.6 287.0 L146.1 287.9 L147.6 288.8 L149.1 289.7 L150.6 290.7 L152.1 291.6 L153.7 292.6 L155.2 293.7 L156.7 294.8 L158.2 295.9 L159.7 297.1 L161.2 298.3 L162.7 299.5 L164.2 300.8 L165.7 302.2 L167.2 303.6 L168.7 305.1 L170.2 306.5 L171.7 308.1 L173.2 309.6 L174.8 311.3 L176.3 312.9 L177.8 314.6 L179.3 316.3 L180.8 318.1 L182.3 319.9 L183.8 321.7 L185.3 323.6 L186.8 325.5 L188.3 327.4 L189.8 329.4 L191.3 331.3 L192.8 333.3 L194.3 335.3 L195.9 337.3 L197.4 339.3 L198.9 341.4 L200.4 343.4 L201.9 345.4 L203.4 347.5 L204.9 349.5 L206.4 351.6 L207.9 353.6 L209.4 355.7 L210.9 357.7 L212.4 359.7 L213.9 361.7 L215.4 363.7 L217.0 365.7 L218.5 367.6 L220.0 369.6 L221.5 371.6 L223.0 373.5 L224.5 375.5 L226.0 377.4 L227.5 379.3 L229.0 381.3 L230.5 383.2 L232.0 385.1 L233.5 387.0 L235.0 388.9 L236.6 390.8 L238.1 392.7 L239.6 394.6 L241.1 396.5 L242.6 398.3 L244.1 400.2 L245.6 402.1 L247.1 404.0 L248.6 405.8 L250.1 407.7 L251.6 409.6 L253.1 411.4 L254.6 413.3 L256.1 415.2 L257.7 417.0 L259.2 418.9 L260.7 420.8 L262.2 422.6 L263.7 424.5 L265.2 426.4 L266.7 428.2 L268.2 430.1 L269.7 432.0 L271.2 433.8 L272.7 435.7 L274.2 437.6 L275.7 439.5 L277.2 441.4 L278.8 443.2 L280.3 445.1 L281.8 447.0 L283.3 448.9 L284.8 450.8 L286.3 452.7 L287.8 454.6 L289.3 456.5 L290.8 458.5 L292.3 460.4 L293.8 462.3 L295.3 464.2 L296.8 466.2 L298.3 468.1 L299.9 470.1 L301.4 472.0 L302.9 474.0 L304.4 475.9 L305.9 477.9 L307.4 479.9 L308.9 481.9 L310.4 483.9 L311.9 485.9 L313.4 487.9 L314.9 489.9 L316.4 491.9 L317.9 494.0 L319.4 496.0 L321.0 498.0 L322.5 500.1 L324.0 502.2 L325.5 504.2 L327.0 506.3 L328.5 508.4 L330.0 510.5" fill="none" stroke="#000" stroke-width="6.8" stroke-linejoin="round"/>
<path d="M330.0 510.2 L331.0 511.3 L332.0 512.3 L333.0 513.4 L334.0 514.5 L335.0 515.6 L336.0 516.6 L337.0 517.7 L338.0 518.8 L339.0 519.9 L340.0 520.9 L341.0 522.0 L342.0 523.1 L343.0 524.2 L344.0 525.2 L345.0 526.3 L346.0 527.4 L347.0 528.5 L348.0 529.6 L349.0 530.7 L350.0 531.7 L351.0 532.8 L352.0 533.9 L353.0 535.0 L354.0 536.1 L355.0 537.2 L356.0 538.3 L357.0 539.3 L358.0 540.4 L359.0 541.5 L360.0 542.6 L361.0 543.7 L362.0 544.8 L363.0 545.9 L364.0 547.0 L365.0 548.1 L366.0 549.2 L367.0 550.3 L368.0 551.4 L369.0 552.5 L370.0 553.6 L371.0 554.8 L372.0 555.9 L373.0 557.0 L374.0 558.1 L375.0 559.2 L376.1 560.3 L377.1 561.5 L378.1 562.6 L379.1 563.7 L380.1 564.8 L381.1 566.0 L382.1 567.1 L383.1 568.2 L384.1 569.4 L385.1 570.5 L386.1 571.6 L387.1 572.8 L388.1 573.9 L389.1 575.1 L390.1 576.2 L391.1 577.4 L392.1 578.5 L393.1 579.7 L394.1 580.8 L395.1 582.0 L396.1 583.1 L397.1 584.3 L398.1 585.5 L399.1 586.6 L400.1 587.8 L401.1 589.0 L402.1 590.2 L403.1 591.3 L404.1 592.5 L405.1 593.7 L406.1 594.9 L407.1 596.1 L408.1 597.3 L409.1 598.5 L410.1 599.7 L411.1 600.9 L412.1 602.1 L413.1 603.3 L414.1 604.5 L415.1 605.7 L416.1 607.0 L417.1 608.2 L418.1 609.4 L419.1 610.6 L420.1 611.9 L421.1 613.1 L422.1 614.3 L423.1 615.6 L424.1 616.8 L425.1 618.1 L426.1 619.3 L427.1 620.6 L428.1 621.9 L429.1 623.1 L430.1 624.4 L431.1 625.7 L432.1 626.9 L433.1 628.2 L434.1 629.5 L435.1 630.8 L436.1 632.1 L437.1 633.4 L438.1 634.7 L439.1 636.0 L440.1 637.3 L441.1 638.6 L442.1 639.9 L443.1 641.2 L444.1 642.6 L445.1 643.9 L446.1 645.2 L447.1 646.6 L448.1 647.9 L449.1 649.2 L450.1 650.6 L451.1 651.9 L452.1 653.3 L453.1 654.7 L454.1 656.0 L455.1 657.4 L456.1 658.8 L457.1 660.2 L458.1 661.6 L459.1 662.9 L460.1 664.3 L461.1 665.7 L462.1 667.1 L463.1 668.6 L464.1 670.0 L465.1 671.4 L466.1 672.8 L467.1 674.3 L468.2 675.7 L469.2 677.1 L470.2 678.6 L471.2 680.0 L472.2 681.5 L473.2 682.9 L474.2 684.4 L475.2 685.9 L476.2 687.4 L477.2 688.8 L478.2 690.3 L479.2 691.8 L480.2 693.3 L481.2 694.8 L482.2 696.3 L483.2 697.9 L484.2 699.4 L485.2 700.9 L486.2 702.4 L487.2 704.0 L488.2 705.5 L489.2 707.1 L490.2 708.6 L491.2 710.2 L492.2 711.8 L493.2 713.3 L494.2 714.9 L495.2 716.5 L496.2 718.1 L497.2 719.7 L498.2 721.3 L499.2 722.9 L500.2 724.5 L501.2 726.1 L502.2 727.8 L503.2 729.4 L504.2 731.0 L505.2 732.7 L506.2 734.3 L507.2 736.0 L508.2 737.7 L509.2 739.3 L510.2 741.0 L511.2 742.7 L512.2 744.4 L513.2 746.1 L514.2 747.8" fill="none" stroke="#000" stroke-width="6.8" stroke-linejoin="round" stroke-dasharray="16.5 9.1" stroke-dashoffset="16.5"/>
<path d="M82.0 486.5 L300.0 487.1 L302.0 487.9 L304.0 488.7 L306.0 489.5 L308.0 490.3 L310.0 491.1 L312.0 491.9 L314.0 492.7 L316.0 493.5 L318.0 494.3 L320.0 495.1 L322.0 496.0 L324.0 496.8 L326.0 497.6 L328.0 498.5 L330.1 499.3 L332.1 500.2 L334.1 501.0 L336.1 501.9 L338.1 502.8 L340.1 503.6 L342.1 504.5 L344.1 505.4 L346.1 506.3 L348.1 507.2 L350.1 508.1 L352.1 509.0 L354.1 509.9 L356.1 510.8 L358.1 511.7 L360.1 512.6 L362.1 513.5 L364.1 514.5 L366.1 515.4 L368.1 516.3 L370.1 517.3 L372.1 518.2 L374.1 519.2 L376.1 520.1 L378.1 521.1 L380.1 522.1 L382.1 523.1 L384.1 524.0 L386.1 525.0 L388.2 526.0 L390.2 527.0 L392.2 528.0 L394.2 529.0 L396.2 530.0 L398.2 531.0 L400.2 532.1 L402.2 533.1 L404.2 534.1 L406.2 535.1 L408.2 536.2 L410.2 537.2 L412.2 538.2 L414.2 539.3 L416.2 540.3 L418.2 541.3 L420.2 542.4 L422.2 543.4 L424.2 544.5 L426.2 545.5 L428.2 546.6 L430.2 547.6 L432.2 548.7 L434.2 549.7 L436.2 550.8 L438.2 551.8 L440.2 552.9 L442.2 553.9 L444.2 554.9 L446.2 556.0 L448.3 557.0 L450.3 558.1 L452.3 559.1 L454.3 560.2 L456.3 561.2 L458.3 562.2 L460.3 563.3 L462.3 564.3 L464.3 565.3 L466.3 566.4 L468.3 567.4 L470.3 568.4 L472.3 569.4 L474.3 570.4 L476.3 571.4 L478.3 572.4 L480.3 573.4 L482.3 574.4 L484.3 575.4 L486.3 576.4 L488.3 577.4 L490.3 578.4 L492.3 579.4 L494.3 580.3 L496.3 581.3 L498.3 582.3 L500.3 583.2 L502.3 584.2 L504.3 585.1 L506.4 586.1 L508.4 587.0 L510.4 587.9 L512.4 588.9 L514.4 589.8 L516.4 590.7 L518.4 591.6 L520.4 592.5 L522.4 593.5 L524.4 594.4 L526.4 595.3 L528.4 596.2 L530.4 597.1 L532.4 597.9 L534.4 598.8 L536.4 599.7 L538.4 600.6 L540.4 601.5 L542.4 602.3 L544.4 603.2 L546.4 604.1 L548.4 604.9 L550.4 605.8 L552.4 606.6 L554.4 607.5 L556.4 608.3 L558.4 609.1 L560.4 610.0 L562.4 610.8 L564.5 611.6 L566.5 612.4 L568.5 613.2 L570.5 614.1 L572.5 614.9 L574.5 615.7 L576.5 616.5 L578.5 617.3 L580.5 618.1 L582.5 618.8 L584.5 619.6 L586.5 620.4 L588.5 621.2 L590.5 622.0 L592.5 622.7 L594.5 623.5 L596.5 624.2 L598.5 625.0 L600.5 625.8 L602.5 626.5 L604.5 627.2 L606.5 628.0 L608.5 628.7 L610.5 629.5 L612.5 630.2 L614.5 630.9 L616.5 631.6 L618.5 632.4 L620.5 633.1 L622.5 633.8 L624.6 634.5 L626.6 635.2 L628.6 635.9 L630.6 636.6 L632.6 637.4 L634.6 638.1 L636.6 638.8 L638.6 639.5 L640.6 640.2 L642.6 640.9 L644.6 641.6 L646.6 642.3 L648.6 643.0 L650.6 643.7 L652.6 644.3 L654.6 645.0 L656.6 645.7 L658.6 646.4 L660.6 647.1 L662.6 647.8 L664.6 648.5 L666.6 649.2 L668.6 649.9 L670.6 650.6 L672.6 651.3 L674.6 652.0 L676.6 652.7 L678.6 653.4 L680.6 654.1 L682.7 654.8 L684.7 655.5 L686.7 656.2 L688.7 656.9 L690.7 657.6 L692.7 658.3 L694.7 659.1 L696.7 659.8 L698.7 660.5 L700.7 661.2 L702.7 662.0 L704.7 662.7 L706.7 663.4 L708.7 664.1 L710.7 664.9 L712.7 665.6 L714.7 666.4 L716.7 667.1 L718.7 667.9 L720.7 668.6 L722.7 669.4 L724.7 670.2 L726.7 670.9 L728.7 671.7 L730.7 672.5 L732.7 673.2 L734.7 674.0 L736.7 674.8 L738.7 675.6 L740.8 676.4 L742.8 677.2 L744.8 678.0 L746.8 678.8 L748.8 679.6 L750.8 680.3 L752.8 681.1 L754.8 681.9 L756.8 682.7 L758.8 683.5 L760.8 684.3 L762.8 685.1 L764.8 685.9 L766.8 686.7 L768.8 687.5 L770.8 688.3 L772.8 689.1 L774.8 689.9 L776.8 690.7 L778.8 691.5 L780.8 692.3 L782.8 693.1 L784.8 693.9 L786.8 694.7 L788.8 695.5 L790.8 696.2 L792.8 697.0 L794.8 697.8 L796.8 698.6 L798.8 699.3 L800.9 700.1 L802.9 700.9 L804.9 701.6 L806.9 702.4 L808.9 703.1 L810.9 703.8 L812.9 704.6 L814.9 705.3 L816.9 706.0 L818.9 706.8 L820.9 707.5 L822.9 708.2 L824.9 708.9 L826.9 709.6 L828.9 710.3 L830.9 711.0 L832.9 711.7 L834.9 712.3 L836.9 713.0 L838.9 713.7 L840.9 714.3 L842.9 715.0 L844.9 715.6 L846.9 716.3 L848.9 716.9 L850.9 717.6 L852.9 718.2 L854.9 718.8 L856.9 719.4 L859.0 720.0 L861.0 720.6 L863.0 721.2 L865.0 721.8 L867.0 722.4 L869.0 723.0 L871.0 723.6 L873.0 724.2 L875.0 724.7 L877.0 725.3 L879.0 725.8 L881.0 726.4 L883.0 726.9 L885.0 727.5 L887.0 728.0 L885.0 728.4 L883.0 728.7 L881.0 728.9 L879.0 729.1 L877.0 729.4 L875.0 729.6 L873.0 729.8 L871.0 730.1 L869.0 730.3 L867.0 730.5 L865.0 730.8 L863.0 731.0 L861.0 731.2 L859.0 731.4 L857.0 731.6 L855.0 731.9 L853.0 732.1 L851.0 732.3 L849.0 732.5 L847.0 732.7 L844.9 732.9 L842.9 733.1 L840.9 733.3 L838.9 733.4 L836.9 733.6 L834.9 733.8 L832.9 734.0 L830.9 734.1 L828.9 734.3 L826.9 734.4 L824.9 734.6 L822.9 734.8 L820.9 734.9 L818.9 735.1 L816.9 735.2 L814.9 735.3 L812.9 735.5 L810.9 735.6 L808.9 735.7 L806.9 735.9 L804.9 736.0 L802.9 736.1 L800.9 736.2 L798.9 736.4 L796.9 736.5 L794.9 736.6 L792.9 736.7 L790.9 736.8 L788.9 736.9 L786.9 737.1 L784.9 737.2 L782.9 737.3 L780.9 737.4 L778.9 737.5 L776.9 737.6 L774.9 737.7 L772.9 737.8 L770.9 737.9 L768.9 738.0 L766.9 738.1 L764.8 738.2 L762.8 738.3 L760.8 738.4 L758.8 738.5 L756.8 738.6 L754.8 738.7 L752.8 738.8 L750.8 738.9 L748.8 739.0 L746.8 739.1 L744.8 739.1 L742.8 739.2 L740.8 739.3 L738.8 739.4 L736.8 739.5 L734.8 739.6 L732.8 739.7 L730.8 739.8 L728.8 739.8 L726.8 739.9 L724.8 740.0 L722.8 740.1 L720.8 740.2 L718.8 740.3 L716.8 740.3 L714.8 740.4 L712.8 740.5 L710.8 740.6 L708.8 740.7 L706.8 740.7 L704.8 740.8 L702.8 740.9 L700.8 741.0 L698.8 741.0 L696.8 741.1 L694.8 741.2 L692.8 741.3 L690.8 741.3 L688.8 741.4 L686.8 741.5 L684.7 741.6 L682.7 741.6 L680.7 741.7 L678.7 741.8 L676.7 741.8 L674.7 741.9 L672.7 742.0 L670.7 742.0 L668.7 742.1 L666.7 742.2 L664.7 742.2 L662.7 742.3 L660.7 742.4 L658.7 742.4 L656.7 742.5 L654.7 742.6 L652.7 742.6 L650.7 742.7 L648.7 742.8 L646.7 742.8 L644.7 742.9 L642.7 743.0 L640.7 743.0 L638.7 743.1 L636.7 743.2 L634.7 743.2 L632.7 743.3 L630.7 743.4 L628.7 743.4 L626.7 743.5 L624.7 743.5 L622.7 743.6 L620.7 743.7 L618.7 743.7 L616.7 743.8 L614.7 743.9 L612.7 743.9 L610.7 744.0 L608.7 744.0 L606.7 744.1 L604.6 744.2 L602.6 744.2 L600.6 744.3 L598.6 744.3 L596.6 744.4 L594.6 744.4 L592.6 744.5 L590.6 744.6 L588.6 744.6 L586.6 744.7 L584.6 744.7 L582.6 744.8 L580.6 744.8 L578.6 744.9 L576.6 745.0 L574.6 745.0 L572.6 745.1 L570.6 745.1 L568.6 745.2 L566.6 745.2 L564.6 745.3 L562.6 745.3 L560.6 745.4 L558.6 745.4 L556.6 745.5 L554.6 745.6 L552.6 745.6 L550.6 745.7 L548.6 745.7 L546.6 745.8 L544.6 745.8 L542.6 745.9 L540.6 745.9 L538.6 746.0 L536.6 746.0 L534.6 746.1 L532.6 746.1 L530.6 746.2 L528.6 746.2 L526.6 746.3 L524.5 746.3 L522.5 746.3 L520.5 746.4 L518.5 746.4 L516.5 746.5 L514.5 746.5 L512.5 746.6 L510.5 746.6 L508.5 746.7 L506.5 746.7 L504.5 746.8 L502.5 746.8 L500.5 746.8 L498.5 746.9 L496.5 746.9 L494.5 747.0 L492.5 747.0 L490.5 747.1 L488.5 747.1 L486.5 747.1 L484.5 747.2 L482.5 747.2 L480.5 747.3 L478.5 747.3 L476.5 747.3 L474.5 747.4 L472.5 747.4 L470.5 747.5 L468.5 747.5 L466.5 747.5 L464.5 747.6 L462.5 747.6 L460.5 747.6 L458.5 747.7 L456.5 747.7 L454.5 747.8 L452.5 747.8 L450.5 747.8 L448.5 747.9 L446.5 747.9 L444.5 747.9 L442.4 748.0 L440.4 748.0 L438.4 748.0 L436.4 748.1 L434.4 748.1 L432.4 748.1 L430.4 748.2 L428.4 748.2 L426.4 748.2 L424.4 748.3 L422.4 748.3 L420.4 748.3 L418.4 748.3 L416.4 748.4 L414.4 748.4 L412.4 748.4 L410.4 748.5 L408.4 748.5 L406.4 748.5 L404.4 748.5 L402.4 748.6 L400.4 748.6 L398.4 748.6 L396.4 748.7 L394.4 748.7 L392.4 748.7 L390.4 748.7 L388.4 748.8 L386.4 748.8 L384.4 748.8 L382.4 748.8 L380.4 748.9 L378.4 748.9 L376.4 748.9 L374.4 748.9 L372.4 748.9 L370.4 749.0 L368.4 749.0 L366.4 749.0 L364.4 749.0 L362.3 749.1 L360.3 749.1 L358.3 749.1 L356.3 749.1 L354.3 749.1 L352.3 749.2 L350.3 749.2 L348.3 749.2 L346.3 749.2 L344.3 749.2 L342.3 749.2 L340.3 749.3 L338.3 749.3 L336.3 749.3 L334.3 749.3 L332.3 749.3 L330.3 749.3 L328.3 749.4 L326.3 749.4 L324.3 749.4 L322.3 749.4 L320.3 749.4 L318.3 749.4 L316.3 749.5 L314.3 749.5 L312.3 749.5 L310.3 749.5 L308.3 749.5 L306.3 749.5 L304.3 749.5 L302.3 749.5 L300.3 749.6 L298.3 749.6 L296.3 749.6 L294.3 749.6 L292.3 749.6 L290.3 749.6 L288.3 749.6 L286.3 749.6 L284.3 749.6 L282.2 749.6 L280.2 749.7 L278.2 749.7 L276.2 749.7 L274.2 749.7 L272.2 749.7 L270.2 749.7 L268.2 749.7 L266.2 749.7 L264.2 749.7 L262.2 749.7 L260.2 749.7 L258.2 749.7 L256.2 749.7 L254.2 749.8 L252.2 749.8 L250.2 749.8 L248.2 749.8 L246.2 749.8 L244.2 749.8 L242.2 749.8 L240.2 749.8 L238.2 749.8 L236.2 749.8 L234.2 749.8 L232.2 749.8 L230.2 749.8 L228.2 749.8 L226.2 749.8 L224.2 749.8 L222.2 749.8 L220.2 749.8 L218.2 749.8 L216.2 749.8 L214.2 749.9 L212.2 749.9 L210.2 749.9 L208.2 749.9 L206.2 749.9 L204.2 749.9 L202.1 749.9 L200.1 749.9 L198.1 749.9 L196.1 749.9 L194.1 749.9 L192.1 749.9 L190.1 749.9 L188.1 749.9 L186.1 749.9 L184.1 749.9 L182.1 749.9 L180.1 749.9 L178.1 749.9 L176.1 749.9 L174.1 749.9 L172.1 749.9 L170.1 749.9 L168.1 749.9 L166.1 749.9 L164.1 750.0 L162.1 750.0 L160.1 750.0 L158.1 750.0 L156.1 750.0 L154.1 750.0 L152.1 750.0 L150.1 750.0 L148.1 750.0 L146.1 750.0 L144.1 750.0 L142.1 750.0 L140.1 750.0 L138.1 750.0 L136.1 750.0 L134.1 750.0 L132.1 750.0 L130.1 750.1 L128.1 750.1 L126.1 750.1 L124.1 750.1 L122.0 750.1 L120.0 750.1 L118.0 750.1 L116.0 750.1 L114.0 750.1 L112.0 750.1 L110.0 750.1 L108.0 750.1 L106.0 750.2 L104.0 750.2 L102.0 750.2 L100.0 750.2 L98.0 750.2 L96.0 750.2 L94.0 750.2 L92.0 750.2 L90.0 750.2 L88.0 750.3 L86.0 750.3 L84.0 750.3 L82.0 750.3" fill="none" stroke="#000" stroke-width="6.8" stroke-linejoin="round"/>
<path d="M82.0 526.6 L209.0 526.6 L211.0 527.3 L213.0 528.0 L215.0 528.8 L217.0 529.7 L219.0 530.6 L221.0 531.5 L223.0 532.5 L225.0 533.6 L227.0 534.6 L229.0 535.7 L231.0 536.9 L233.0 538.0 L235.0 539.1 L237.0 540.3 L239.0 541.5 L241.0 542.6 L243.0 543.8 L245.0 544.9 L247.0 546.1 L249.0 547.2 L251.0 548.3 L253.0 549.4 L255.0 550.6 L257.0 551.7 L259.0 552.8 L261.0 553.9 L263.0 555.0 L265.0 556.1 L267.0 557.1 L269.0 558.2 L271.0 559.3 L273.0 560.4 L275.0 561.4 L277.0 562.5 L279.0 563.6 L281.0 564.6 L283.0 565.7 L285.0 566.7 L287.0 567.7 L289.0 568.8 L291.0 569.8 L293.0 570.8 L295.0 571.8 L297.0 572.8 L299.0 573.8 L301.0 574.9 L303.0 575.9 L305.0 576.9 L307.0 577.8 L309.0 578.8 L311.0 579.8 L313.0 580.8 L315.0 581.8 L317.0 582.7 L319.0 583.7 L321.0 584.7 L323.0 585.6 L325.0 586.6 L327.0 587.5 L329.0 588.4 L331.0 589.4 L333.0 590.3 L335.0 591.2 L337.0 592.2 L339.0 593.1 L341.0 594.0 L343.0 594.9 L345.0 595.8 L347.0 596.7 L349.0 597.6 L351.0 598.4 L353.0 599.3 L355.0 600.2 L357.0 601.1 L359.0 601.9 L361.0 602.8 L363.0 603.6 L365.0 604.5 L367.0 605.3 L369.0 606.1 L371.0 607.0 L373.0 607.8 L375.0 608.6 L377.0 609.4 L379.0 610.2 L381.0 611.0 L383.0 611.8 L385.0 612.6 L387.0 613.4 L389.0 614.1 L391.0 614.9 L393.0 615.7 L395.0 616.4 L397.0 617.2 L399.0 617.9 L401.0 618.7 L403.0 619.4 L405.0 620.1 L407.0 620.9 L409.0 621.6 L411.0 622.3 L413.0 623.0 L415.0 623.8 L417.0 624.5 L419.0 625.2 L421.0 625.9 L423.0 626.6 L425.0 627.3 L427.0 628.0 L429.0 628.7 L431.0 629.4 L433.0 630.1 L435.0 630.7 L437.0 631.4 L439.0 632.1 L441.0 632.8 L443.0 633.5 L445.0 634.1 L447.0 634.8 L449.0 635.5 L451.0 636.2 L453.0 636.8 L455.0 637.5 L457.0 638.2 L459.0 638.9 L461.0 639.5 L463.0 640.2 L465.0 640.9 L467.0 641.5 L469.0 642.2 L471.0 642.9 L473.0 643.6 L475.0 644.2 L477.0 644.9 L479.0 645.6 L481.0 646.2 L483.0 646.9 L485.0 647.6 L487.0 648.3 L489.0 648.9 L491.0 649.6 L493.0 650.3 L495.0 650.9 L497.0 651.6 L499.0 652.3 L501.0 653.0 L503.0 653.6 L505.0 654.3 L507.0 655.0 L509.0 655.7 L511.0 656.3 L513.0 657.0 L515.0 657.7 L517.0 658.4 L519.0 659.1 L521.0 659.8 L523.0 660.4 L525.0 661.1 L527.0 661.8 L529.0 662.5 L531.0 663.2 L533.0 663.9 L535.0 664.6 L537.0 665.3 L539.0 665.9 L541.0 666.6 L543.0 667.3 L545.0 668.0 L547.0 668.7 L549.0 669.4 L551.0 670.1 L553.0 670.8 L555.0 671.5 L557.0 672.2 L559.0 672.9 L561.0 673.6 L563.0 674.3 L565.0 675.1 L567.0 675.8 L569.0 676.5 L571.0 677.2 L573.0 677.9 L575.0 678.6 L577.0 679.3 L579.0 680.0 L581.0 680.7 L583.0 681.4 L585.0 682.1 L587.0 682.8 L589.0 683.5 L591.0 684.3 L593.0 685.0 L595.0 685.7 L597.0 686.4 L599.0 687.1 L601.0 687.8 L603.0 688.5 L605.0 689.2 L607.0 689.9 L609.0 690.6 L611.0 691.3 L613.0 692.0 L615.0 692.7 L617.0 693.4 L619.0 694.1 L621.0 694.8 L623.0 695.5 L625.0 696.2 L627.0 696.9 L629.0 697.5 L631.0 698.2 L633.0 698.9 L635.0 699.6 L637.0 700.3 L639.0 701.0 L641.0 701.6 L643.0 702.3 L645.0 703.0 L647.0 703.7 L649.0 704.3 L651.0 705.0 L653.0 705.7 L655.0 706.3 L657.0 707.0 L659.0 707.7 L661.0 708.3 L663.0 709.0 L665.0 709.6 L667.0 710.3 L669.0 710.9 L671.0 711.6 L673.0 712.2 L675.0 712.9 L677.0 713.5 L679.0 714.1 L681.0 714.8 L683.0 715.4 L685.0 716.0 L687.0 716.6 L689.0 717.3 L691.0 717.9 L693.0 718.5 L695.0 719.1 L697.0 719.7 L699.0 720.3 L701.0 720.9 L703.0 721.5 L705.0 722.1 L707.0 722.7 L709.0 723.3 L711.0 723.9 L713.0 724.5 L715.0 725.1 L717.0 725.6 L719.0 726.2 L721.0 726.8 L723.0 727.4 L725.0 728.0 L727.0 728.5 L729.0 729.1 L731.0 729.7 L733.0 730.3 L735.0 730.8 L737.0 731.4 L739.0 732.0 L741.0 732.5 L743.0 733.1 L745.0 733.7 L747.0 734.3 L749.0 734.8 L751.0 735.4 L753.0 736.0 L755.0 736.6 L757.0 737.2 L759.0 737.7 L761.0 738.3 L763.0 738.9 L765.0 739.5" fill="none" stroke="#000" stroke-width="6.8" stroke-linejoin="round"/>
</svg>
</body></html>
